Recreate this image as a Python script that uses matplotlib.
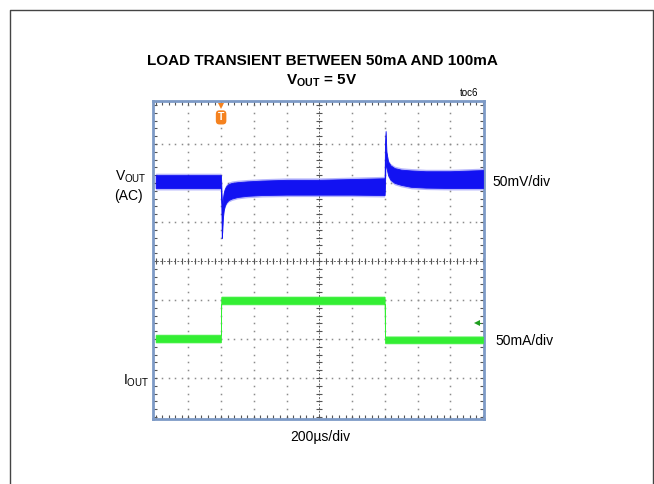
import numpy as np
import matplotlib
matplotlib.use("Agg")
import matplotlib.pyplot as plt
from matplotlib.lines import Line2D

# ---------------- data (time in µs, amplitude in scope divisions) ----------------
t_v = [0, 399, 401, 404, 407, 411, 416, 423, 432, 445, 465, 500, 560, 650, 800,
       1000, 1200, 1399, 1401, 1405, 1410, 1420, 1435, 1460, 1500, 1560, 1650, 1800, 2000]
v_hi = [2.20, 2.20, 2.00, 1.50, 1.35, 1.60, 1.75, 1.85, 1.92, 1.97, 2.00, 2.02, 2.04, 2.06, 2.08,
        2.08, 2.10, 2.12, 3.00, 3.33, 2.80, 2.55, 2.45, 2.38, 2.34, 2.32, 2.30, 2.30, 2.33]
v_lo = [1.87, 1.87, 1.60, 0.59, 0.75, 1.10, 1.30, 1.42, 1.50, 1.56, 1.60, 1.64, 1.67, 1.69, 1.70,
        1.70, 1.70, 1.69, 1.90, 2.60, 2.40, 2.20, 2.08, 2.00, 1.95, 1.90, 1.88, 1.87, 1.87]

t_i = [0, 399, 401, 1399, 1401, 2000]
i_hi = [-1.90, -1.90, -0.92, -0.92, -1.94, -1.94]
i_lo = [-2.08, -2.08, -1.10, -1.10, -2.10, -2.10]

trigger_t = 400
ref_marker = (1962, -1.6)

title1 = "LOAD TRANSIENT BETWEEN 50mA AND 100mA"
title2 = r"V$_{OUT}$ = 5V"
time_label = "200µs/div"
v_scale = "50mV/div"
i_scale = "50mA/div"

# ---------------- styling ----------------
plt.rcParams["font.family"] = ["Liberation Sans", "DejaVu Sans"]
plt.rcParams["mathtext.default"] = "regular"

BLUE = "#1212f2"
GREEN = "#33ee33"
ORANGE = "#f5821f"

W, H = 654, 484
fx = lambda x: x / W
fy = lambda y: 1 - y / H

fig = plt.figure(figsize=(W / 100, H / 100), dpi=100)
ax = fig.add_axes([fx(153), fy(419), 331 / W, 318 / H])
ax.set_xlim(-16, 2006)
ax.set_ylim(-4.05, 4.10)

# dotted graticule
dots_y = np.arange(-4, 4.001, 0.2)
dots_x = np.arange(0, 2000.1, 40)
for gx in range(200, 2000, 200):
    if gx == 1000:
        continue
    ax.plot(np.full(len(dots_y), gx), dots_y, ls="none", marker="s", ms=1.1,
            mew=0, color="#8c8c8c", zorder=1)
for gy in range(-3, 4):
    if gy == 0:
        continue
    ax.plot(dots_x, np.full(len(dots_x), gy), ls="none", marker="s", ms=1.1,
            mew=0, color="#8c8c8c", zorder=1)

# centre cross-hair with ticks
ax.axhline(0, color="#6a6a6a", lw=0.7, ls=(0, (2, 1.5)), zorder=1)
ax.axvline(1000, color="#6a6a6a", lw=0.7, ls=(0, (2, 1.5)), zorder=1)
ax.plot(dots_x, np.zeros(len(dots_x)), ls="none", marker="|", ms=4, mew=0.8,
        color="#555555", zorder=1)
ax.plot(np.full(len(dots_y), 1000), dots_y, ls="none", marker="_", ms=4, mew=0.8,
        color="#555555", zorder=1)

# edge ticks
ax.set_xticks(np.arange(0, 2001, 200))
ax.set_xticks(dots_x, minor=True)
ax.set_yticks(np.arange(-4, 5, 1))
ax.set_yticks(dots_y, minor=True)
ax.tick_params(which="both", direction="in", length=3, width=0.8, color="#555555",
               top=True, right=True, labelbottom=False, labelleft=False)
for s in ax.spines.values():
    s.set_color("#7d9ac6")
    s.set_linewidth(2)

# traces
ax.fill_between(t_v, np.array(v_lo) - 0.05, np.array(v_hi) + 0.05, color=BLUE,
                alpha=0.3, lw=0, zorder=2)
ax.fill_between(t_v, v_lo, v_hi, color=BLUE, ec=BLUE, lw=0.6, zorder=3)
ax.fill_between(t_i, np.array(i_lo) - 0.03, np.array(i_hi) + 0.03, color=GREEN,
                alpha=0.35, lw=0, zorder=2)
ax.fill_between(t_i, i_lo, i_hi, color=GREEN, ec=GREEN, lw=0.5, zorder=3)

# trigger marker
ax.plot([trigger_t], [3.98], marker="v", ms=5, color=ORANGE, mew=0, clip_on=False, zorder=5)
ax.text(trigger_t, 3.68, "T", ha="center", va="center", fontsize=7.5, color="white",
        fontweight="bold",
        bbox=dict(boxstyle="round,pad=0.2,rounding_size=0.35", fc=ORANGE, ec="none"),
        zorder=5)
# channel reference marker
ax.plot([ref_marker[0]], [ref_marker[1]], marker="<", ms=4, color="#1f9e1f", mew=0, zorder=5)
ax.plot([ref_marker[0], ref_marker[0] + 22], [ref_marker[1]] * 2, color="#1f9e1f", lw=0.8, zorder=5)

# texts
fig.text(fx(322), fy(65), title1, ha="center", va="baseline", fontsize=11,
         fontweight="bold")
fig.text(fx(322), fy(85), title2, ha="center", va="baseline", fontsize=11,
         fontweight="bold")
fig.text(fx(478), fy(96.5), "toc6", ha="right", va="baseline", fontsize=7)

fig.text(fx(115), fy(181), r"V$_{OUT}$", ha="left", va="baseline", fontsize=10)
fig.text(fx(114), fy(200), "(AC)", ha="left", va="baseline", fontsize=10)
fig.text(fx(123), fy(385), r"I$_{OUT}$", ha="left", va="baseline", fontsize=10)
fig.text(fx(492), fy(186.5), v_scale, ha="left", va="baseline", fontsize=10)
fig.text(fx(495), fy(345), i_scale, ha="left", va="baseline", fontsize=10)
fig.text(fx(320), fy(441), time_label, ha="center", va="baseline", fontsize=10)

# outer frame of the figure (open at the bottom)
fig.add_artist(Line2D([fx(10), fx(10), fx(652.5), fx(652.5)], [0, fy(10), fy(10), 0],
                      transform=fig.transFigure, color="#444444", lw=1))

fig.savefig("out.png", dpi=100)
